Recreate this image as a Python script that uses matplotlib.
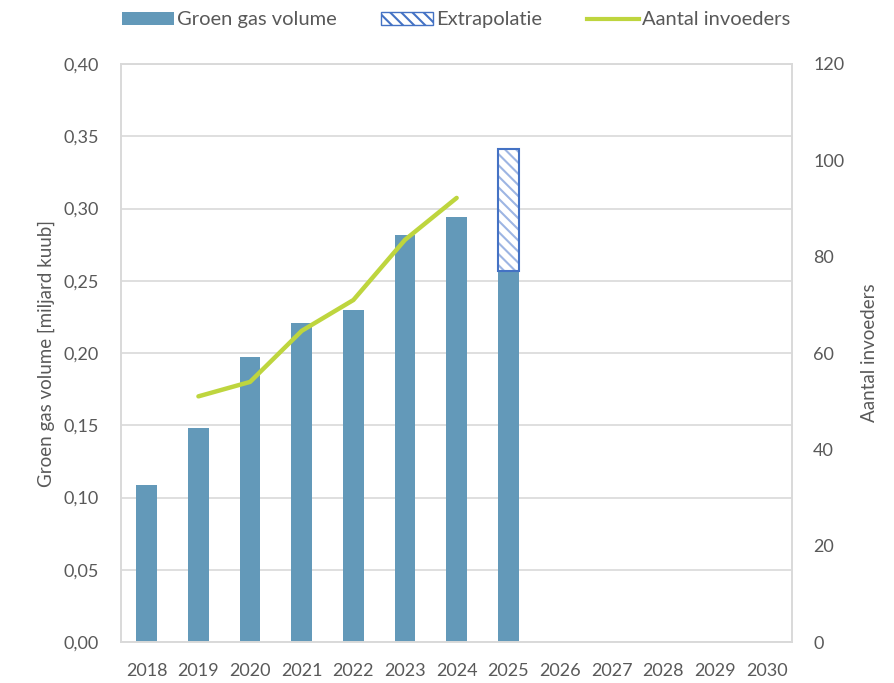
import numpy as np
import matplotlib.pyplot as plt
from matplotlib.patches import Patch
from matplotlib.lines import Line2D

plt.rcParams['font.family'] = ['Lato', 'DejaVu Sans']
plt.rcParams['hatch.linewidth'] = 1.5

years = ['2018', '2019', '2020', '2021', '2022', '2023', '2024', '2025',
         '2026', '2027', '2028', '2029', '2030']
volume = [0.109, 0.148, 0.197, 0.221, 0.230, 0.282, 0.294, 0.257]
extrapolatie_top = 0.341
invoeders_years = ['2019', '2020', '2021', '2022', '2023', '2024']
invoeders = [51, 54, 64.6, 71, 83.5, 92.2]

bar_color = '#6399B9'
line_color = '#BED53E'
text_color = '#595959'
grid_color = '#D9D9D9'

fig = plt.figure(figsize=(8.94, 6.83), dpi=100)
ax = fig.add_axes([0.1353, 0.06, 0.751, 0.8463])
ax2 = ax.twinx()

x = np.arange(len(years))
w = 0.4
ax.bar(x[:len(volume)], volume, width=w, color=bar_color, zorder=2)

# extrapolatie 2025
i25 = years.index('2025')
ax.bar(i25, extrapolatie_top - volume[i25], bottom=volume[i25], width=w,
       color='white', edgecolor='#9DB5E3', hatch='\\\\\\', linewidth=0, zorder=2)
ax.bar(i25, extrapolatie_top - volume[i25], bottom=volume[i25], width=w,
       fill=False, edgecolor='#4472C4', linewidth=1.5, zorder=3)

xi = [years.index(y) for y in invoeders_years]
ax2.plot(xi, invoeders, color=line_color, lw=3.2, solid_capstyle='round', zorder=4)

ax.set_xlim(-0.5, len(years) - 0.5)
ax.set_ylim(0, 0.40)
ax2.set_ylim(0, 120)
ax.set_xticks(x)
ax.set_xticklabels(years)
ax.set_yticks(np.arange(0, 0.401, 0.05))
ax.set_yticklabels(['{:.2f}'.format(v).replace('.', ',') for v in np.arange(0, 0.401, 0.05)])
ax2.set_yticks(np.arange(0, 121, 20))

ax.grid(axis='y', color=grid_color, lw=1.2, zorder=0)
ax.set_axisbelow(True)
for a in (ax, ax2):
    for s in a.spines.values():
        s.set_color(grid_color)
        s.set_linewidth(1.2)
    a.tick_params(length=0, colors=text_color, labelsize=13)
ax.tick_params(axis='x', pad=15)
ax.tick_params(axis='y', pad=16)
ax2.tick_params(axis='y', pad=15)

ax.set_ylabel('Groen gas volume [miljard kuub]', color=text_color, fontsize=13.5, labelpad=6)
ax2.set_ylabel('Aantal invoeders', color=text_color, fontsize=13.5, labelpad=12)

handles = [Patch(facecolor=bar_color),
           Patch(facecolor='white', edgecolor='#4472C4', hatch='\\\\\\'),
           Line2D([], [], color=line_color, lw=3)]
labels = ['Groen gas volume', 'Extrapolatie', 'Aantal invoeders']
fig.legend(handles, labels, loc='upper center', bbox_to_anchor=(0.51, 1.01), ncol=3,
           frameon=False, fontsize=14.5, labelcolor=text_color, handlelength=2.6,
           handleheight=0.6, handletextpad=0.15, columnspacing=2.2)

fig.savefig('out.png', dpi=100)
